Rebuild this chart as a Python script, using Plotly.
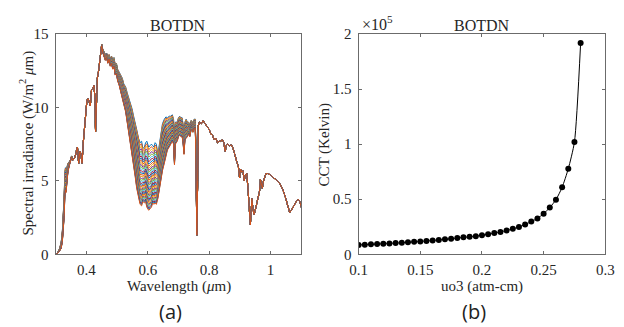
import numpy as np
import plotly.graph_objects as go

# ---------------- data ----------------
# Ozone amounts (atm-cm), one spectrum per value
uo3 = [round(0.100 + 0.005 * i, 3) for i in range(37)]

# CCT for each ozone amount (Kelvin)
cct = [8500, 8800, 9100, 9300, 9600, 9900, 10200, 10500, 11000, 11300,
       11600, 12200, 12500, 13100, 13600, 14200, 14800, 15400, 15900, 16500,
       17400, 18200, 19400, 20200, 21700, 23100, 24800, 27100, 29700, 32600,
       36900, 42400, 49600, 60800, 77700, 102000, 191800]

# Wavelength grid (um)
wavelength = [0.300, 0.306, 0.312, 0.318, 0.322, 0.325, 0.328, 0.330, 0.332, 0.334,
              0.337, 0.340, 0.344, 0.348, 0.352, 0.356, 0.360, 0.364, 0.368, 0.371,
              0.375, 0.379, 0.382, 0.386, 0.390, 0.394, 0.398, 0.402, 0.406, 0.410,
              0.413, 0.417, 0.421, 0.425, 0.428, 0.430, 0.432, 0.436, 0.440, 0.444,
              0.447, 0.450, 0.454, 0.458, 0.462, 0.466, 0.470, 0.474, 0.478, 0.482,
              0.486, 0.490, 0.494, 0.498, 0.502, 0.507, 0.512, 0.517, 0.522, 0.528,
              0.533, 0.538, 0.543, 0.549, 0.554, 0.559, 0.564, 0.570, 0.575, 0.580,
              0.584, 0.589, 0.593, 0.597, 0.603, 0.608, 0.612, 0.616, 0.620, 0.624,
              0.628, 0.633, 0.638, 0.643, 0.648, 0.654, 0.659, 0.664, 0.670, 0.675,
              0.680, 0.684, 0.687, 0.690, 0.696, 0.700, 0.704, 0.708, 0.712, 0.715,
              0.718, 0.721, 0.725, 0.729, 0.733, 0.737, 0.740, 0.743, 0.747, 0.751,
              0.755, 0.7585, 0.760, 0.7625, 0.765, 0.768, 0.775, 0.780, 0.785, 0.790,
              0.795, 0.800, 0.805, 0.811, 0.816, 0.822, 0.827, 0.832, 0.838, 0.843,
              0.848, 0.852, 0.856, 0.860, 0.866, 0.872, 0.878, 0.885, 0.890, 0.895,
              0.899, 0.902, 0.906, 0.910, 0.914, 0.918, 0.922, 0.926, 0.930, 0.934,
              0.937, 0.939, 0.942, 0.946, 0.950, 0.955, 0.960, 0.964, 0.967, 0.970,
              0.973, 0.977, 0.981, 0.985, 0.990, 0.995, 1.000, 1.010, 1.020, 1.030,
              1.040, 1.048, 1.055, 1.062, 1.068, 1.075, 1.082, 1.090, 1.095, 1.100]

# Spectral irradiance at the lowest ozone amount (upper envelope, uo3 = 0.10)
irr_low_o3 = [0.0, 0.10, 0.35, 0.8, 1.6, 2.6, 4.0, 5.6, 5.9, 5.7,
              6.0, 6.2, 6.3, 6.4, 6.7, 6.45, 6.5, 6.7, 7.1, 7.3,
              6.2, 7.0, 6.9, 6.2, 7.6, 8.7, 9.2, 10.5, 10.6, 10.3,
              10.1, 11.2, 11.3, 11.5, 10.6, 8.35, 10.0, 12.0, 12.5, 13.1,
              13.8, 14.3, 13.9, 13.8, 13.6, 13.7, 13.4, 13.6, 13.3, 13.5,
              13.2, 13.4, 12.9, 13.0, 12.6, 12.4, 12.2, 12.0, 11.6, 11.4,
              11.0, 10.7, 10.4, 9.9, 9.4, 9.0, 8.5, 7.9, 7.6, 7.7,
              7.2, 7.3, 7.6, 7.7, 7.3, 7.4, 7.5, 7.4, 7.3, 7.6,
              7.5, 6.8, 7.6, 8.35, 8.9, 9.2, 9.35, 9.3, 9.4, 9.4,
              9.5, 9.2, 7.5, 9.0, 9.0, 9.3, 9.4, 9.3, 9.3, 8.8,
              7.9, 9.0, 9.2, 9.0, 9.0, 8.8, 9.1, 9.1, 8.9, 9.2,
              9.2, 4.0, 1.3, 5.0, 8.8, 9.0, 8.9, 9.1, 8.95, 8.8,
              8.6, 8.5, 8.2, 8.1, 7.8, 7.9, 7.6, 7.7, 7.7, 7.8,
              7.6, 7.0, 7.4, 7.5, 7.4, 7.45, 7.2, 6.6, 6.3, 6.0,
              5.2, 5.8, 5.6, 5.7, 5.0, 5.4, 5.5, 4.6, 3.2, 2.0,
              3.0, 3.8, 3.2, 2.7, 3.0, 3.4, 3.9, 4.3, 5.1, 4.8,
              4.5, 5.0, 5.3, 5.5, 5.5, 5.45, 5.4, 5.2, 5.05, 4.8,
              4.4, 3.9, 3.3, 2.85, 3.0, 3.3, 3.55, 3.75, 3.6, 3.2]

# Spectral irradiance at the highest ozone amount (lower envelope, uo3 = 0.28)
irr_high_o3 = [0.0, 0.05, 0.2, 0.4, 0.9, 1.6, 2.6, 4.0, 4.4, 4.2,
               5.0, 5.6, 6.0, 6.3, 6.6, 6.4, 6.5, 6.7, 7.1, 7.3,
               6.2, 7.0, 6.9, 6.2, 7.6, 8.7, 9.2, 10.5, 10.6, 10.3,
               10.1, 11.2, 11.3, 11.5, 10.6, 8.35, 10.0, 12.0, 12.5, 13.1,
               13.8, 14.2, 13.7, 13.5, 13.2, 13.4, 13.0, 13.3, 12.8, 13.0,
               12.6, 12.8, 12.2, 12.3, 11.8, 11.5, 11.0, 10.7, 10.2, 9.7,
               9.0, 8.4, 7.8, 7.0, 6.2, 5.3, 4.5, 3.8, 3.4, 3.3,
               3.6, 3.5, 3.6, 3.2, 3.0, 3.1, 3.2, 3.5, 3.4, 3.5,
               3.4, 3.8, 4.5, 5.1, 5.7, 6.2, 6.7, 7.1, 7.3, 7.5,
               7.7, 7.5, 6.1, 7.5, 7.7, 8.0, 8.1, 8.0, 8.0, 7.6,
               6.8, 7.8, 7.9, 8.0, 8.2, 8.0, 8.4, 8.5, 8.3, 8.6,
               8.6, 4.0, 1.3, 5.0, 8.8, 9.0, 8.9, 9.1, 8.95, 8.8,
               8.6, 8.5, 8.2, 8.1, 7.8, 7.9, 7.6, 7.7, 7.7, 7.8,
               7.6, 7.0, 7.4, 7.5, 7.4, 7.45, 7.2, 6.6, 6.3, 6.0,
               5.2, 5.8, 5.6, 5.7, 5.0, 5.4, 5.5, 4.6, 3.2, 2.0,
               3.0, 3.8, 3.2, 2.7, 3.0, 3.4, 3.9, 4.3, 5.1, 4.8,
               4.5, 5.0, 5.3, 5.5, 5.5, 5.45, 5.4, 5.2, 5.05, 4.8,
               4.4, 3.9, 3.3, 2.85, 3.0, 3.3, 3.55, 3.75, 3.6, 3.2]

# Tick labels
x1_ticks = [0.4, 0.6, 0.8, 1.0]
x1_ticklabels = ["0.4", "0.6", "0.8", "1"]
y1_ticks = [0, 5, 10, 15]
x2_ticks = [0.10, 0.15, 0.20, 0.25, 0.30]
x2_ticklabels = ["0.1", "0.15", "0.2", "0.25", "0.3"]
y2_ticks = [0, 50000, 100000, 150000, 200000]
y2_ticklabels = ["0", "0.5", "1", "1.5", "2"]

# ---------------- figure ----------------
W, H = 624, 327
matlab_colors = ["#0072BD", "#D95319", "#EDB120", "#7E2F8E",
                 "#77AC30", "#4DBEEE", "#A2142F"]

wl = np.array(wavelength)
top = np.array(irr_low_o3)
bot = np.array(irr_high_o3)
ratio = np.where(top > 0, bot / np.where(top > 0, top, 1), 1.0)

fig = go.Figure()
u0, u1 = uo3[0], uo3[-1]
for i, u in enumerate(uo3):
    # Beer-Lambert scaling between the two read envelopes
    frac = (u - u0) / (u1 - u0)
    spec = top * ratio ** frac
    fig.add_trace(go.Scatter(
        x=wl, y=spec, mode="lines",
        line=dict(color=matlab_colors[i % 7], width=1),
        xaxis="x", yaxis="y", showlegend=False, hoverinfo="skip"))

fig.add_trace(go.Scatter(
    x=uo3, y=cct, mode="lines+markers",
    line=dict(color="black", width=1, shape="spline", smoothing=0.6),
    marker=dict(color="black", size=6),
    xaxis="x2", yaxis="y2", showlegend=False))

serif = "Liberation Serif, Times New Roman, serif"
tickfont = dict(family=serif, size=15, color="#262626")
axis_common = dict(showline=True, linecolor="#6b6b6b", linewidth=1, mirror="ticks",
                   ticks="inside", ticklen=3, tickcolor="#6b6b6b", showgrid=False,
                   zeroline=False, tickfont=tickfont)

fig.update_layout(
    width=W, height=H,
    margin=dict(l=0, r=0, t=0, b=0),
    paper_bgcolor="white", plot_bgcolor="white",
    xaxis=dict(domain=[48 / W, 301 / W], range=[0.3, 1.1], tickvals=x1_ticks,
               ticktext=x1_ticklabels, anchor="y", ticklabelstandoff=2, **axis_common),
    yaxis=dict(domain=[68 / H, 1 - 27.3 / H], range=[0, 15], tickvals=y1_ticks,
               anchor="x", ticklabelstandoff=3, **axis_common),
    xaxis2=dict(domain=[360 / W, 614 / W], range=[0.1, 0.3], tickvals=x2_ticks,
                ticktext=x2_ticklabels, anchor="y2", ticklabelstandoff=2, **axis_common),
    yaxis2=dict(domain=[68 / H, 1 - 27.3 / H], range=[0, 200000], tickvals=y2_ticks,
                ticktext=y2_ticklabels, anchor="x2", ticklabelstandoff=3, **axis_common),
)


def px(x):
    return x / W


def py(y):
    return 1 - y / H


txt = dict(family=serif, size=15, color="#262626")
ttl = dict(family=serif, size=16, color="#262626")
ann = [
    dict(x=px(174.5), y=py(18), text="BOTDN", font=ttl),
    dict(x=px(487), y=py(18), text="BOTDN", font=ttl),
    dict(x=px(175), y=py(293), text="Wavelength (<i>μ</i>m)", font=txt),
    dict(x=px(487), y=py(293), text="uo3 (atm-cm)", font=txt),
    dict(x=px(18), y=py(142), text="Spectral irradiance (W/m<sup>2</sup> <i>μ</i>m)",
         font=txt, textangle=-90),
    dict(x=px(325), y=py(144), text="CCT (Kelvin)", font=txt, textangle=-90),
    dict(x=px(361), y=py(16), text="×10<sup>5</sup>", font=dict(family=serif, size=16, color="#262626"),
         xanchor="left"),
    dict(x=px(166.7), y=py(319), text="(a)",
         font=dict(family="Open Sans, sans-serif", size=20, color="#222222")),
    dict(x=px(478.7), y=py(319), text="(b)",
         font=dict(family="Open Sans, sans-serif", size=20, color="#222222")),
]
for a in ann:
    a.setdefault("xanchor", "center")
    a.update(xref="paper", yref="paper", yanchor="middle", showarrow=False)
fig.update_layout(annotations=ann)

fig.write_html("out.html")
